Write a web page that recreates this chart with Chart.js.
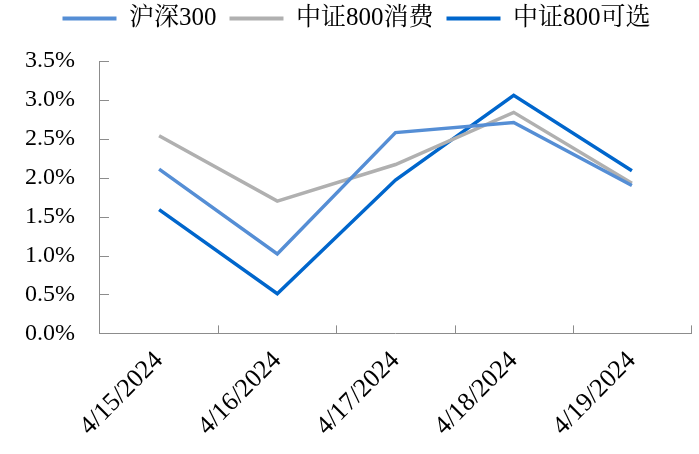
<!DOCTYPE html>
<html>
<head>
<meta charset="utf-8">
<script src="https://cdn.jsdelivr.net/npm/chart.js@4/dist/chart.umd.min.js"></script>
<style>
    html, body { margin: 0; padding: 0; background: #fff; }
    #wrap { width: 699px; height: 454px; position: relative; }
</style>
</head>
<body>
<div id="wrap"><canvas id="retChart"></canvas></div>
<script>
const dates = ['4/15/2024', '4/16/2024', '4/17/2024', '4/18/2024', '4/19/2024'];
const hs300 = [2.11, 1.02, 2.58, 2.71, 1.90];
const csi800Consumer = [2.54, 1.70, 2.17, 2.84, 1.93];
const csi800Discretionary = [1.59, 0.51, 1.97, 3.06, 2.09];
const yTicks = [0, 0.5, 1.0, 1.5, 2.0, 2.5, 3.0, 3.5];

const FONT = "'Liberation Serif', 'Times New Roman', 'Noto Serif CJK SC', 'Noto Sans CJK SC', serif";
const AXIS = '#8c8c8c';

// inward tick marks like the Excel original
const innerTicks = {
    id: 'innerTicks',
    afterDraw(chart) {
        const { ctx, chartArea: a, scales: { x, y } } = chart;
        ctx.save();
        ctx.strokeStyle = AXIS;
        ctx.lineWidth = 1;
        ctx.beginPath();
        yTicks.forEach(v => {
            const py = Math.round(y.getPixelForValue(v)) + 0.5;
            ctx.moveTo(a.left, py); ctx.lineTo(a.left + 9, py);
        });
        for (let i = 1; i <= dates.length; i++) {
            const px = Math.round(i < dates.length
                ? (x.getPixelForTick(i - 1) + x.getPixelForTick(i)) / 2
                : a.right) + 0.5;
            ctx.moveTo(px, a.bottom); ctx.lineTo(px, a.bottom - 8);
        }
        ctx.stroke();
        ctx.restore();
    }
};

// extra room under the legend, legend sits a bit right of centre
const legendTweak = {
    id: 'legendTweak',
    beforeInit(chart) {
        const lg = chart.legend;
        const fit = lg.fit, draw = lg.draw;
        lg.fit = function () { fit.call(this); this.height += 20; };
        lg.draw = function () {
            const ctx = this.ctx;
            ctx.save(); ctx.translate(11, 0);
            draw.call(this);
            ctx.restore();
        };
    }
};

const line = (label, data, color) => ({
    label, data, borderColor: color, backgroundColor: color,
    borderWidth: 3.5, pointRadius: 0, tension: 0, fill: false
});

new Chart(document.getElementById('retChart').getContext('2d'), {
    type: 'line',
    data: {
        labels: dates,
        datasets: [
            line('沪深300', hs300, '#558ED5'),
            line('中证800消费', csi800Consumer, '#B0B0B0'),
            line('中证800可选', csi800Discretionary, '#0066CC')
        ]
    },
    options: {
        animation: false, responsive: true, maintainAspectRatio: false,
        layout: { padding: { left: 0, right: 8, top: -7, bottom: 0 } },
        plugins: {
            tooltip: { enabled: false },
            legend: {
                position: 'top',
                labels: {
                    color: '#000', font: { family: FONT, size: 25 },
                    boxWidth: 54, boxHeight: 4, padding: 13,
                    generateLabels: (chart) => chart.data.datasets.map((d, i) => ({
                        text: d.label, fillStyle: d.borderColor, strokeStyle: d.borderColor,
                        lineWidth: 0, datasetIndex: i, fontColor: '#000'
                    }))
                }
            }
        },
        scales: {
            x: {
                offset: true,
                grid: { display: false, drawTicks: false },
                border: { display: true, color: AXIS, width: 1 },
                ticks: {
                    color: '#000', font: { family: FONT, size: 26 },
                    minRotation: 45, maxRotation: 45, padding: 12, autoSkip: false
                }
            },
            y: {
                min: 0, max: 3.5,
                grid: { display: false, drawTicks: false },
                border: { display: true, color: AXIS, width: 1 },
                afterBuildTicks: (s) => { s.ticks = yTicks.map(v => ({ value: v })); },
                ticks: {
                    color: '#000', font: { family: FONT, size: 24 }, padding: 25,
                    callback: (v) => Number(v).toFixed(1) + '%'
                }
            }
        }
    },
    plugins: [innerTicks, legendTweak]
});
</script>
</body>
</html>
